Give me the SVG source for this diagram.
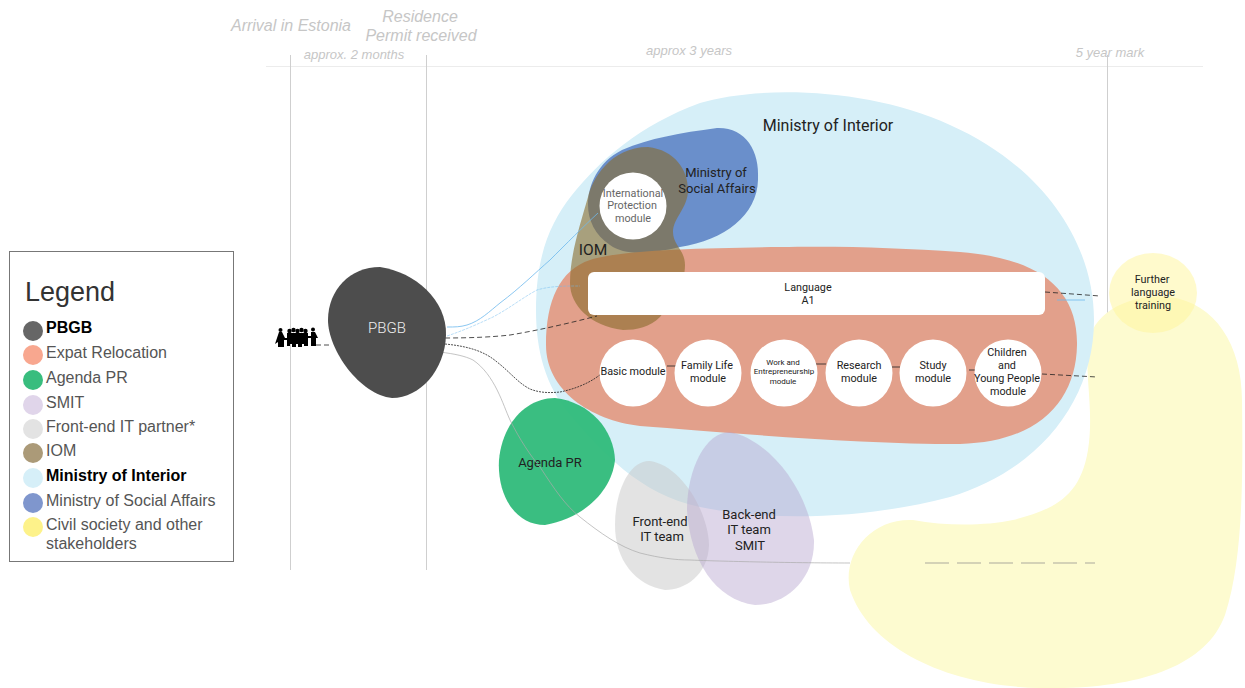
<svg xmlns="http://www.w3.org/2000/svg" width="1245" height="688" viewBox="0 0 1245 688">
<style>
text{font-family:Roboto,"Liberation Sans",sans-serif;fill:#222;text-anchor:middle}
.tl{fill:#c6c6c6;font-style:italic;font-size:16px;font-family:"Liberation Sans",Arial,sans-serif}
.ts{fill:#c6c6c6;font-style:italic;font-size:13px;font-family:"Liberation Sans",Arial,sans-serif}
.m{fill:#fff}
.mt{font-size:10.800px}
.nt{font-size:13px}
.wk{font-size:8px}
.lg{font-size:16px;text-anchor:start;fill:#555;font-family:"Liberation Sans",Arial,sans-serif}
.lb{fill:#000;font-weight:700}
.guide{stroke:#cfcfcf;stroke-width:1;fill:none}
.d{fill:none;stroke:#222;stroke-width:.8;stroke-dasharray:5 3}
.f{fill:none;stroke:#222;stroke-width:.8;stroke-dasharray:2 1}
.b{fill:none;stroke:#6db9ee;stroke-width:.8}
.g{fill:none;stroke:#aaa;stroke-width:.7}
</style>
<rect width="1245" height="688" fill="#fff"/>
<g id="timeline">
<path class="guide" style="stroke:#ececec" d="M266 66.500H1203"/>
<path class="guide" d="M290.500 55V570M426.500 55V570M1107.500 55V570"/>
<text class="tl" x="291" y="31">Arrival in Estonia</text>
<text class="tl" x="420" y="22">Residence</text>
<text class="tl" x="421" y="41">Permit received</text>
<text class="ts" x="354" y="59">approx. 2 months</text>
<text class="ts" x="689" y="55">approx 3 years</text>
<text class="ts" x="1110" y="57">5 year mark</text>
</g>
<g id="civil-society"><path fill="#fdfbd0" d="M1088 345C1092 312 1130 293 1170 297C1215 303 1242 345 1242 400C1243 480 1243 560 1225 615C1205 670 1130 690 1040 688C950 686 870 650 850 590C842 555 870 518 913 520C945 526 985 526 1013 520C1050 510 1080 500 1088 450C1094 410 1085 380 1088 345Z"/></g>
<g id="ministry-interior"><path fill="#d6eff8" d="M536 310C536 260 548 225 572 195C600 160 640 125 700 103C760 85 870 88 950 125C1040 165 1094 240 1094 320C1094 400 1040 470 950 497C880 516 780 524 700 507C640 495 600 450 570 415C545 385 536 350 536 310Z"/>
<text x="828" y="131" font-size="16">Ministry of Interior</text></g>
<g id="social-affairs"><path fill="#6a8fcb" d="M588 205C588 185 598 162 622 150C650 138 680 133 717 128C745 127 760 150 758 180C757 215 725 240 680 247C650 254 625 256 610 245C595 235 588 220 588 205Z"/></g>
<g id="expat"><path fill="#e2a08b" d="M546 345C546 300 560 270 590 260C620 250 700 248 780 247C850 246 900 248 960 252C1040 258 1078 290 1077 345C1076 400 1040 442 960 444C850 444 720 432 640 426C590 420 546 390 546 345Z"/></g>
<g id="iom"><path fill="#896b2b" fill-opacity=".6" d="M570 283C570 255 580 225 588 197C592 180 610 147 648 147C675 150 688 170 688 190C688 208 673 218 673 232C673 245 685 250 685 265C685 285 672 303 660 317C650 327 637 330 623 330C590 326 570 305 570 283Z"/>
<text x="593" y="255" font-size="15.500">IOM</text></g>
<g id="agenda"><path fill="#2fba7a" fill-opacity=".95" d="M499 460C502 425 525 398 555 398C590 402 614 430 615 460C612 490 585 518 545 525C515 525 497 495 499 460Z"/>
<text x="550" y="467" class="nt">Agenda PR</text></g>
<g id="front-end"><path fill="#c8c8c8" fill-opacity=".5" d="M615 525C615 490 630 460 650 461C680 465 708 510 709 545C708 575 685 590 665 590C635 585 615 560 615 525Z"/>
<text x="660" y="526" class="nt">Front-end</text><text x="662" y="541" class="nt">IT team</text></g>
<g id="back-end"><path fill="#b6a3cf" fill-opacity=".45" d="M687 510C687 470 705 432 730 432C770 440 808 490 814 540C815 580 785 605 755 605C715 600 690 560 687 510Z"/>
<text x="749" y="519" class="nt">Back-end</text><text x="749" y="534" class="nt">IT team</text><text x="750" y="550" class="nt">SMIT</text></g>
<g id="connectors">
<path class="d" d="M445 338C470 338 493 337 510 335C540 330 570 323 597 316"/>
<path class="f" d="M445 344C465 346 483 350 497 362C510 372 518 383 530 389C540 393 550 393 560 392C575 389 590 383 601 374"/>
<path class="g" d="M440 352C455 354 465 356 473 360C495 375 503 405 510 420C520 440 530 455 540 467C555 490 565 505 580 517C600 533 620 547 640 553C660 558 675 560 690 560C710 561 790 563 850 563"/>
<path class="g" stroke-dasharray="24 8" style="stroke:#888" d="M925 563H1095"/>
<path class="b" d="M447 327C455 327 460 327 467 325C480 321 490 311 500 303C520 288 535 273 550 260C565 245 585 225 598 213"/>
<path class="b" stroke-dasharray="3 1" stroke-opacity=".6" d="M447 336C465 330 480 323 493 317C510 308 522 298 537 290C550 286 565 286 580 286"/>
<path class="d" d="M1045 292L1100 296"/>
<path class="b" stroke-width="1.200" d="M1057 300H1085"/>
<path class="d" d="M1042 374L1097 377"/>
<path fill="none" stroke="#222" stroke-width=".8" d="M667 366H676M816 364H826M892 367H900M969 370H975"/>
<path class="d" d="M316 345H332"/>
</g>
<g id="pbgb"><path fill="#4d4d4d" d="M328 320C328 290 350 267 380 267C415 272 447 300 446 335C445 370 420 398 392 398C360 395 328 350 328 320Z"/>
<text x="387" y="333" font-size="15" font-weight="300" style="fill:#eee">PBGB</text></g>
<g id="people" fill="#000">
<circle cx="280.500" cy="330" r="2"/><path d="M279 332H282L285 338H288V340H284L284 347H278V342L275 344Z"/>
<circle cx="289.500" cy="331" r="2.200"/><circle cx="293.500" cy="330" r="2.200"/><circle cx="297.500" cy="331" r="2.200"/><circle cx="301.500" cy="330" r="2.200"/><circle cx="305.500" cy="331" r="2.200"/>
<path d="M287 333H308V346H304V344H302V347H298V344H296V347H292V344H290V346H287Z"/>
<circle cx="313" cy="329.500" r="2"/><path d="M308 336H311V332H315L318 338H316V346H311V338H308Z"/>
</g>
<g id="further"><ellipse cx="1153" cy="293" rx="44" ry="40" fill="#fff59a" fill-opacity=".5"/>
<text class="mt" x="1152" y="283">Further</text><text class="mt" x="1153" y="296">language</text><text class="mt" x="1153" y="309">training</text></g>
<g id="language"><rect class="m" x="588" y="272" width="457" height="43" rx="6"/>
<text class="mt" x="808" y="291">Language</text><text class="mt" x="808" y="304">A1</text></g>
<g id="international"><circle class="m" cx="633" cy="206" r="33.500"/>
<text class="mt" x="633" y="197" style="fill:#666">International</text><text class="mt" x="632" y="209" style="fill:#666">Protection</text><text class="mt" x="633" y="222" style="fill:#666">module</text></g>
<g id="social-label"><text class="nt" x="716" y="177">Ministry of</text><text class="nt" x="717" y="193">Social Affairs</text></g>
<g id="basic"><circle class="m" cx="633" cy="373" r="33.500"/><text class="mt" x="633" y="375">Basic module</text></g>
<g id="family"><circle class="m" cx="708" cy="373" r="33.500"/><text class="mt" x="707" y="369">Family Life</text><text class="mt" x="708" y="382">module</text></g>
<g id="work"><circle class="m" cx="784" cy="373" r="33.500"/><text class="wk" x="783" y="365">Work and</text><text class="wk" x="784" y="374">Entrepreneurship</text><text class="wk" x="783" y="384">module</text></g>
<g id="research"><circle class="m" cx="859" cy="373" r="33.500"/><text class="mt" x="859" y="369">Research</text><text class="mt" x="859" y="382">module</text></g>
<g id="study"><circle class="m" cx="933" cy="373" r="33.500"/><text class="mt" x="933" y="369">Study</text><text class="mt" x="933" y="382">module</text></g>
<g id="children"><circle class="m" cx="1008" cy="373" r="33.500"/><text class="mt" x="1007" y="356">Children</text><text class="mt" x="1007" y="369">and</text><text class="mt" x="1007" y="382">Young People</text><text class="mt" x="1008" y="395">module</text></g>
<g id="legend"><rect x="9.500" y="251.500" width="224" height="310" fill="#fff" stroke="#777"/>
<text x="25" y="301" font-size="27" style="text-anchor:start;fill:#333;font-family:'Liberation Sans',Arial,sans-serif">Legend</text>
<circle cx="33" cy="331" r="10" fill="#666"/><text class="lg lb" x="46" y="333">PBGB</text>
<circle cx="33" cy="355" r="10" fill="#f8a78f"/><text class="lg" x="46" y="358">Expat Relocation</text>
<circle cx="33" cy="380" r="10" fill="#38bd7e"/><text class="lg" x="46" y="383">Agenda PR</text>
<circle cx="33" cy="405" r="10" fill="#e0d5ea"/><text class="lg" x="46" y="408">SMIT</text>
<circle cx="33" cy="429" r="10" fill="#e3e3e3"/><text class="lg" x="46" y="432">Front-end IT partner*</text>
<circle cx="33" cy="453" r="10" fill="#ab9a78"/><text class="lg" x="46" y="456">IOM</text>
<circle cx="33" cy="478" r="10" fill="#d6eff8"/><text class="lg lb" x="46" y="481">Ministry of Interior</text>
<circle cx="33" cy="503" r="10" fill="#7f96cd"/><text class="lg" x="46" y="506">Ministry of Social Affairs</text>
<circle cx="33" cy="527" r="10" fill="#fdf28a"/><text class="lg" x="46" y="530">Civil society and other</text><text class="lg" x="46" y="549">stakeholders</text>
</g>
</svg>
